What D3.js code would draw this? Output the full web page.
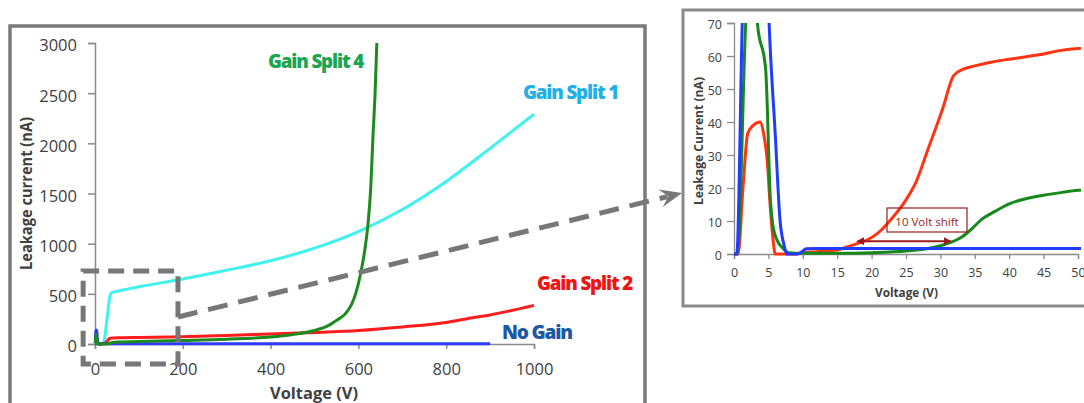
<!DOCTYPE html>
<html>
<head>
<meta charset="utf-8">
<script src="https://cdn.jsdelivr.net/npm/d3@7"></script>
<style>
  html, body { margin: 0; padding: 0; background: #fff; }
  svg { display: block; }
  text { font-family: "Open Sans", "DejaVu Sans", sans-serif; }
</style>
</head>
<body>
<svg id="chart" width="1084" height="403"></svg>
<script>
// ---- Leakage current vs. bias voltage, per gain split ----
const noGainVolts = [0, 0.4, 1.2, 2, 3, 4, 4.6, 5.1, 6, 6.7, 7.3, 7.7, 9.2, 9.8, 10.5, 12, 20, 50, 100, 300, 500, 700, 900];
const noGainNa    = [0, 0, 70, 125, 140, 128, 100, 70, 36, 10, 2.5, 0, 0, 0.6, 1.6, 1.7, 1.7, 1.7, 1.8, 1.9, 2, 2, 2];

const split1Volts = [0, 17, 22, 26, 30, 34, 38, 45, 60, 100, 200, 300, 400, 500, 600, 700, 800, 900, 1000];
const split1Na    = [0, 0, 60, 200, 350, 480, 510, 520, 535, 570, 648, 735, 830, 955, 1120, 1340, 1620, 1950, 2290];

const split2Volts = [0, 0.6, 1.3, 2.0, 2.8, 3.8, 4.3, 4.9, 5.2, 5.6, 6.0, 9, 10, 12, 15, 16.5, 18, 19.3, 21, 23, 25, 26.5, 28, 30.4, 31.9, 33.3, 35, 37.5, 40, 42.5, 45, 47.5, 50, 100, 200, 300, 400, 500, 600, 700, 800, 860, 900, 940, 1000];
const split2Na    = [0, 0, 20, 36.6, 39, 40, 36.5, 26.5, 16.4, 6, 0, 0, 0.4, 0.7, 1.2, 2.2, 3.2, 4.2, 6.5, 10.9, 16.4, 22, 30.6, 44.5, 54, 56, 57, 58.2, 59, 59.8, 60.6, 61.7, 62.3, 66, 72, 85, 100, 115, 135, 170, 215, 262, 290, 325, 385];

const split4Volts = [0, 0.5, 1.7, 2.3, 2.9, 3.4, 4.6, 5.3, 5.7, 6.3, 7.0, 8, 10, 15, 20, 25, 28, 30, 31.5, 33, 34.5, 36, 38, 40, 42.5, 45, 47.5, 50, 100, 200, 300, 400, 450, 500, 530, 550, 570, 585, 595, 605, 615, 622, 628, 633, 638, 642];
const split4Na    = [0, 0, 70, 92, 95, 70, 56, 16, 8, 4, 2, 0.4, 0.2, 0.2, 0.4, 0.9, 1.6, 2.5, 3.5, 5, 7.5, 10.5, 13, 15.2, 16.8, 17.8, 18.6, 19.3, 24, 35, 48, 70, 95, 135, 180, 235, 300, 400, 520, 700, 950, 1200, 1550, 2050, 2500, 3000];

// Axis ticks
const mainVoltTicks    = [0, 200, 400, 600, 800, 1000];
const mainCurrentTicks = [0, 500, 1000, 1500, 2000, 2500, 3000];
const insetVoltTicks    = [0, 5, 10, 15, 20, 25, 30, 35, 40, 45, 50];
const insetCurrentTicks = [0, 10, 20, 30, 40, 50, 60, 70];

// Series labels on the full-range chart
const seriesNames = ["Gain Split 4", "Gain Split 1", "Gain Split 2", "No Gain"];

// Threshold-shift annotation on the zoomed chart (volts, nA)
const shiftText = "10 Volt shift";
const shiftFromV = 18.8, shiftToV = 31.5, shiftAtNa = 3.9;

// Zoomed window marked on the full-range chart (volts, nA)
const zoomVolts = [-27, 189];
const zoomNa = [-200, 728];

const zip = (xs, ys) => xs.map((v, i) => [v, ys[i]]);
const noGain = zip(noGainVolts, noGainNa);
const split1 = zip(split1Volts, split1Na);
const split2 = zip(split2Volts, split2Na);
const split4 = zip(split4Volts, split4Na);

const svg = d3.select("#chart");
const axisGrey = "#8a8a8a";
const labelGrey = "#404040";

// ---------- full-range chart ----------
const x = d3.scaleLinear().domain([0, 1000]).range([95, 534]);
const y = d3.scaleLinear().domain([0, 3000]).range([344, 43]);

svg.append("rect").attr("x", 10).attr("y", 26).attr("width", 635).attr("height", 420)
  .attr("fill", "none").attr("stroke", "#7a7a7a").attr("stroke-width", 3.5);

const gy = svg.append("g").attr("transform", `translate(${x(0)},0)`)
  .call(d3.axisLeft(y).tickValues(mainCurrentTicks).tickSize(7).tickPadding(11).tickFormat(d3.format("d")));
const gx = svg.append("g").attr("transform", `translate(0,${y(0)})`)
  .call(d3.axisBottom(x).tickValues(mainVoltTicks).tickSize(5).tickPadding(14).tickFormat(d3.format("d")));
[gx, gy].forEach(g => {
  g.selectAll("path, line").attr("stroke", axisGrey).attr("stroke-width", 1.5);
  g.selectAll("text").attr("fill", labelGrey).style("font-size", "16.5px").attr("font-family", "Open Sans");
});
gy.selectAll("text").attr("dy", "0.48em");

const mainLine = d3.line().x(d => x(d[0])).y(d => y(d[1])).curve(d3.curveMonotoneX);
const mainSeries = [
  { data: split1, color: "#3ff2ee" },
  { data: split2, color: "#ff1c1c" },
  { data: noGain, color: "#2b3cff" },
  { data: split4, color: "#1c8a1c" }
];
svg.append("g").selectAll("path").data(mainSeries).join("path")
  .attr("d", s => mainLine(s.data)).attr("fill", "none")
  .attr("stroke", s => s.color).attr("stroke-width", 3)
  .attr("stroke-linejoin", "round");

// series labels
const seriesLabelStyle = [
  { x: 268, y: 68, w: 95, color: "#1ba552" },
  { x: 523, y: 99, w: 95, color: "#1fb0e8" },
  { x: 537, y: 290, w: 95, color: "#f01414" },
  { x: 502, y: 339, w: 70, color: "#1b5aa3" }
];
svg.append("g").selectAll("text").data(seriesNames).join("text")
  .attr("x", (d, i) => seriesLabelStyle[i].x).attr("y", (d, i) => seriesLabelStyle[i].y)
  .attr("fill", (d, i) => seriesLabelStyle[i].color)
  .attr("textLength", (d, i) => seriesLabelStyle[i].w).attr("lengthAdjust", "spacingAndGlyphs")
  .style("font-size", "19.5px").style("font-weight", 800).style("letter-spacing", "-1.2px").text(d => d);

// axis titles
svg.append("text").attr("x", 270).attr("y", 399).attr("fill", labelGrey)
  .attr("textLength", 88).attr("lengthAdjust", "spacingAndGlyphs")
  .style("font-size", "15.5px").style("font-weight", 700).text("Voltage (V)");
svg.append("text").attr("transform", "translate(32,193.5) rotate(-90)").attr("text-anchor", "middle")
  .attr("fill", labelGrey).attr("textLength", 153).attr("lengthAdjust", "spacingAndGlyphs")
  .style("font-size", "16px").style("font-weight", 700).text("Leakage current (nA)");

// ---------- zoomed chart (0-50 V) ----------
const xi = d3.scaleLinear().domain([0, 50]).range([734, 1078]);
const yi = d3.scaleLinear().domain([0, 70]).range([254, 23]);

svg.append("rect").attr("x", 683).attr("y", 10).attr("width", 430).attr("height", 296)
  .attr("fill", "#fff").attr("stroke", "#8a8a8a").attr("stroke-width", 3);

const giy = svg.append("g").attr("transform", `translate(${xi(0)},0)`)
  .call(d3.axisLeft(yi).tickValues(insetCurrentTicks).tickSize(7).tickPadding(5));
const gix = svg.append("g").attr("transform", `translate(0,${yi(0)})`)
  .call(d3.axisBottom(xi).tickValues(insetVoltTicks).tickSize(5).tickPadding(9));
[gix, giy].forEach(g => {
  g.selectAll("path, line").attr("stroke", axisGrey).attr("stroke-width", 1.3);
  g.selectAll("text").attr("fill", labelGrey).style("font-size", "12.5px").attr("font-family", "Open Sans");
});
giy.selectAll("text").attr("dy", "0.46em");

svg.append("clipPath").attr("id", "insetClip").append("rect")
  .attr("x", xi(0) - 3).attr("y", yi(70)).attr("width", xi(50) - xi(0) + 6).attr("height", yi(0) - yi(70) + 3);

const insetLine = d3.line().x(d => xi(d[0])).y(d => yi(d[1])).curve(d3.curveMonotoneX);
const insetSeries = [
  { data: split2.filter(d => d[0] <= 100), color: "#ff3412" },
  { data: split4.filter(d => d[0] <= 100), color: "#17891a" },
  { data: noGain.filter(d => d[0] <= 100), color: "#1f3cff" }
];
svg.append("g").attr("clip-path", "url(#insetClip)")
  .selectAll("path").data(insetSeries).join("path")
  .attr("d", s => insetLine(s.data)).attr("fill", "none")
  .attr("stroke", s => s.color).attr("stroke-width", 3).attr("stroke-linejoin", "round");

svg.append("text").attr("x", 875).attr("y", 297).attr("fill", labelGrey)
  .attr("textLength", 63).attr("lengthAdjust", "spacingAndGlyphs")
  .style("font-size", "13px").style("font-weight", 700).text("Voltage (V)");
svg.append("text").attr("transform", "translate(703,141) rotate(-90)").attr("text-anchor", "middle")
  .attr("fill", labelGrey).attr("textLength", 128).attr("lengthAdjust", "spacingAndGlyphs")
  .style("font-size", "12.5px").style("font-weight", 700).text("Leakage Current (nA)");

// threshold-shift annotation
const annRed = "#9a1c1c";
const defs = svg.append("defs");
["start", "end"].forEach(k => {
  defs.append("marker").attr("id", "shift-" + k)
    .attr("viewBox", "0 -5 10 10").attr("refX", k === "end" ? 9 : 1).attr("refY", 0)
    .attr("markerWidth", 4).attr("markerHeight", 4).attr("orient", k === "end" ? "auto" : "auto-start-reverse")
    .append("path").attr("d", "M0,-5L10,0L0,5Z").attr("fill", annRed);
});
svg.append("line")
  .attr("x1", xi(shiftFromV)).attr("x2", xi(shiftToV)).attr("y1", yi(shiftAtNa)).attr("y2", yi(shiftAtNa))
  .attr("stroke", annRed).attr("stroke-width", 2)
  .attr("marker-start", "url(#shift-start)").attr("marker-end", "url(#shift-end)");
svg.append("rect").attr("x", 887).attr("y", 208).attr("width", 80).attr("height", 24)
  .attr("fill", "none").attr("stroke", annRed).attr("stroke-width", 1.2);
svg.append("text").attr("x", 927).attr("y", 226).attr("text-anchor", "middle")
  .attr("fill", annRed).style("font-size", "11.5px").text(shiftText);

// ---------- zoom call-out: dashed window and pointer ----------
const calloutGrey = "#777";
svg.append("rect")
  .attr("x", x(zoomVolts[0])).attr("y", y(zoomNa[1]))
  .attr("width", x(zoomVolts[1]) - x(zoomVolts[0])).attr("height", y(zoomNa[0]) - y(zoomNa[1]))
  .attr("fill", "none").attr("stroke", calloutGrey).attr("stroke-width", 5)
  .attr("stroke-dasharray", "16 9");

const p0 = [x(zoomVolts[1]), 317];
const tip = [682, 193];
const ang = Math.atan2(tip[1] - p0[1], tip[0] - p0[0]);
const back = 15;
const pEnd = [tip[0] - back * Math.cos(ang), tip[1] - back * Math.sin(ang)];
svg.append("line").attr("x1", p0[0]).attr("y1", p0[1]).attr("x2", pEnd[0]).attr("y2", pEnd[1])
  .attr("stroke", calloutGrey).attr("stroke-width", 5).attr("stroke-dasharray", "20 11");
svg.append("path")
  .attr("d", "M0,0 L-22,-9 L-14,0 L-22,9 Z")
  .attr("transform", `translate(${tip[0]},${tip[1]}) rotate(${ang * 180 / Math.PI})`)
  .attr("fill", calloutGrey);
</script>
</body>
</html>
